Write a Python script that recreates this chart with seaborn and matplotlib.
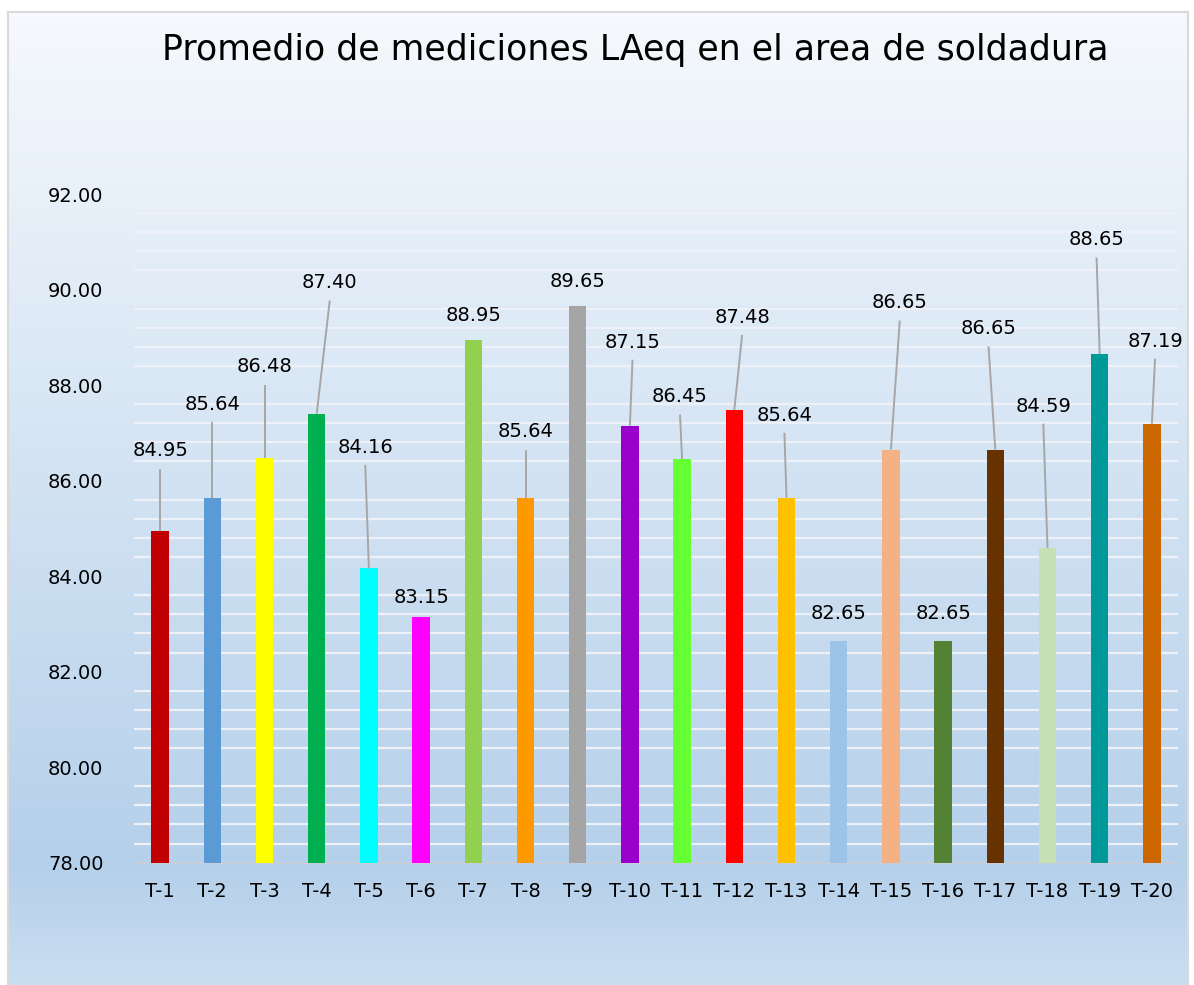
import numpy as np
import pandas as pd
import matplotlib
matplotlib.use("Agg")
import matplotlib.pyplot as plt
from matplotlib.colors import LinearSegmentedColormap
from matplotlib.ticker import MultipleLocator, FormatStrFormatter
from matplotlib.patches import Rectangle
import seaborn as sns

sns.set_theme(style="white")
plt.rcParams['font.family'] = ['DejaVu Sans']

# ------------------------------------------------------------------
# Data
# ------------------------------------------------------------------
tramos = ['T-1', 'T-2', 'T-3', 'T-4', 'T-5', 'T-6', 'T-7', 'T-8', 'T-9', 'T-10',
          'T-11', 'T-12', 'T-13', 'T-14', 'T-15', 'T-16', 'T-17', 'T-18', 'T-19', 'T-20']
laeq = [84.95, 85.64, 86.48, 87.40, 84.16, 83.15, 88.95, 85.64, 89.65, 87.15,
        86.45, 87.48, 85.64, 82.65, 86.65, 82.65, 86.65, 84.59, 88.65, 87.19]
bar_colors = ['#C00000', '#5B9BD5', '#FFFF00', '#00B050', '#00FFFF', '#FF00FF',
              '#92D050', '#FF9900', '#A5A5A5', '#9900CC', '#66FF33', '#FF0000',
              '#FFC000', '#9DC3E6', '#F4B183', '#548235', '#663300', '#C5E0B4',
              '#009999', '#CC6600']
# data label placement (moved labels, as in the original sheet)
label_y = [86.62, 87.60, 88.38, 90.14, 86.70, 83.56, 89.46, 87.02, 90.16, 88.90,
           87.75, 89.42, 87.37, 83.21, 89.72, 83.21, 89.18, 87.56, 91.04, 88.92]
label_dx = [0, 0, 0, 0.25, -0.07, 0, 0, 0, 0, 0.05,
            -0.04, 0.15, -0.04, 0, 0.17, 0, -0.13, -0.08, -0.06, 0.06]

df = pd.DataFrame({'tramo': tramos, 'laeq': laeq})

W, H = 1194, 985
fig = plt.figure(figsize=(W / 100, H / 100), dpi=100)
fig.patch.set_facecolor('white')

# chart area background with vertical gradient
bg = fig.add_axes([8 / W, 0, (1188 - 8) / W, (H - 12) / H], zorder=-2)
cmap = LinearSegmentedColormap.from_list(
    'bg', [(0, '#f6f9fd'), (0.88, '#b5d0ea'), (1.0, '#cadef1')])
grad = np.linspace(0, 1, 256).reshape(-1, 1)
bg.imshow(grad, aspect='auto', cmap=cmap, extent=[0, 1, 1, 0])
bg.set_xlim(0, 1)
bg.set_ylim(1, 0)
bg.axis('off')
bg.add_patch(Rectangle((0, -0.02), 1, 1.02, transform=bg.transAxes, fill=False,
                       edgecolor='#d9d9d9', linewidth=1.5, clip_on=False))

ax = fig.add_axes([134 / W, (H - 862.7) / H, (1178 - 134) / W, (862.7 - 194) / H])
ax.set_facecolor('none')

sns.barplot(data=df, x='tramo', y='laeq', hue='tramo', palette=bar_colors,
            legend=False, width=0.33, saturation=1, linewidth=0, ax=ax, zorder=3)

ax.set_ylim(78, 92)
ax.set_xlim(-0.5, len(tramos) - 0.5)
ax.yaxis.set_major_locator(MultipleLocator(2))
ax.yaxis.set_minor_locator(MultipleLocator(0.4))
ax.yaxis.set_major_formatter(FormatStrFormatter('%.2f'))
ax.grid(False)
ax.grid(which='minor', axis='y', color='#eef2f8', linewidth=1.6, zorder=0)
for side in ['top', 'right', 'left']:
    ax.spines[side].set_visible(False)
ax.spines['bottom'].set_color('#c9ced6')
ax.spines['bottom'].set_linewidth(1.2)
ax.tick_params(axis='y', which='both', length=0, pad=22, labelsize=14, colors='black')
ax.tick_params(axis='x', length=0, pad=14, labelsize=14, colors='black')
ax.set_xlabel('')
ax.set_ylabel('')

# data labels with leader lines
for i, (v, ly, dx) in enumerate(zip(laeq, label_y, label_dx)):
    ax.text(i + dx, ly, f'{v:.2f}', ha='center', va='center', fontsize=14,
            color='black', zorder=5)
    if ly - v > 0.8:
        ax.plot([i + dx, i], [ly - 0.37, v], color='#a6a6a6', linewidth=1.4,
                zorder=4, solid_capstyle='butt')

fig.text(635 / W, 1 - 50 / H, 'Promedio de mediciones LAeq en el area de soldadura',
         ha='center', va='center', fontsize=25, color='black')

fig.savefig('out.png', dpi=100)
